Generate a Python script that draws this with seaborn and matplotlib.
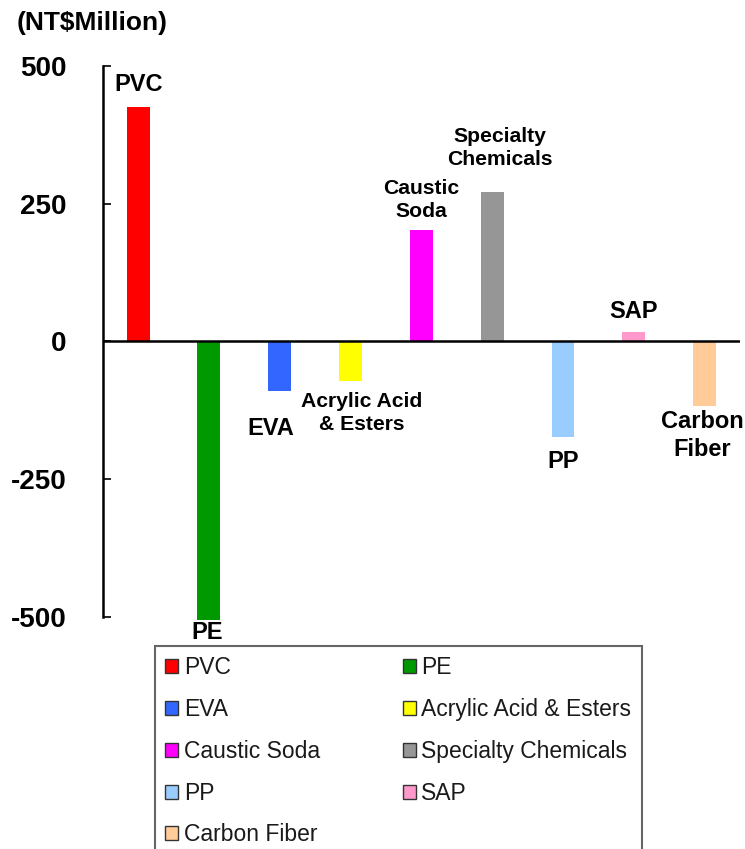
"""Operating income change by product (bar chart with legend)."""

import matplotlib.pyplot as plt
import seaborn as sns
from matplotlib.patches import Patch

categories = ["PVC", "PE", "EVA", "Acrylic Acid & Esters", "Caustic Soda",
              "Specialty Chemicals", "PP", "SAP", "Carbon Fiber"]
values = [426, -506, -89, -72, 203, 272, -173, 17, -118]
colors = ["#FF0000", "#009900", "#3366FF", "#FFFF00", "#FF00FF",
          "#969696", "#99CCFF", "#FF99CC", "#FFCC99"]
bar_labels = ["PVC", "PE", "EVA", "Acrylic Acid\n& Esters", "Caustic\nSoda",
              "Specialty\nChemicals", "PP", "SAP", "Carbon\nFiber"]
y_ticks = [-500, -250, 0, 250, 500]
unit_label = "(NT$Million)"

# label layout: (dx pt, dy pt, vertical alignment, font size)
label_style = [
    (0, 11.5, "baseline", 17),
    (-1, -13.2, "baseline", 17),
    (-6.5, -31.7, "baseline", 17),
    (8.3, -23, "center", 15.2),
    (0, 21.5, "center", 15.2),
    (5.4, 31.5, "center", 15.2),
    (0, -22.5, "baseline", 17),
    (0, 10.3, "baseline", 17),
    (-1.4, -21, "center", 17),
]

sns.set_style("white")
plt.rcParams["font.family"] = ["Liberation Sans", "DejaVu Sans"]
plt.rcParams["text.color"] = "black"
plt.rcParams["ytick.color"] = "black"
plt.rcParams["ytick.labelcolor"] = "black"

fig = plt.figure(figsize=(7.45, 8.49), dpi=100)
ax = fig.add_axes([0.1379, 0.2733, 0.8554, 0.6490])

sns.barplot(x=categories, y=values, hue=categories, palette=colors,
            order=categories, hue_order=categories, width=0.324,
            saturation=1, linewidth=0, legend=False, dodge=False, ax=ax)
for patch in ax.patches:
    patch.set_clip_on(False)

ax.set_xlim(-0.5, len(categories) - 0.5)
ax.set_ylim(-500, 500)
ax.set_yticks(y_ticks)
ax.set_yticklabels([str(t) for t in y_ticks], fontsize=20, fontweight="bold",
                   color="black")
ax.tick_params(axis="y", direction="in", length=6, width=1.2, pad=26,
               left=True, color="black")
ax.tick_params(axis="x", bottom=False, labelbottom=False)
ax.set_xlabel("")
ax.set_ylabel("")
for side in ["top", "right", "bottom"]:
    ax.spines[side].set_visible(False)
ax.spines["left"].set_linewidth(1.8)
ax.spines["left"].set_color("black")
ax.axhline(0, color="black", lw=1.8, zorder=3)

for i, (text, val) in enumerate(zip(bar_labels, values)):
    dx, dy, va, size = label_style[i]
    ax.annotate(text, xy=(i, val), xytext=(dx, dy), textcoords="offset points",
                ha="center", va=va, fontsize=size, fontweight="bold",
                color="black", linespacing=1.3, annotation_clip=False)

fig.text(17 / 745, 1 - 23 / 849, unit_label, fontsize=19, fontweight="bold",
         color="black", ha="left", va="center")

handles = [Patch(facecolor=c, edgecolor="#333333", linewidth=1.0, label=n)
           for c, n in zip(colors, categories)]
order = [0, 2, 4, 6, 8, 1, 3, 5, 7]
leg = fig.legend([handles[k] for k in order], [categories[k] for k in order],
                 ncol=2, loc="upper left",
                 bbox_to_anchor=(155 / 745, 1 - 646 / 849), borderaxespad=0,
                 fontsize=16.5, handlelength=0.57, handleheight=0.57,
                 handletextpad=0.245, columnspacing=3.6, labelspacing=0.82,
                 borderpad=0.45, fancybox=False, frameon=True)
leg.get_frame().set_edgecolor("#404040")
leg.get_frame().set_linewidth(1.5)
for t in leg.get_texts():
    t.set_color("#1a1a1a")

plt.savefig("out.png", dpi=100)
plt.close()
